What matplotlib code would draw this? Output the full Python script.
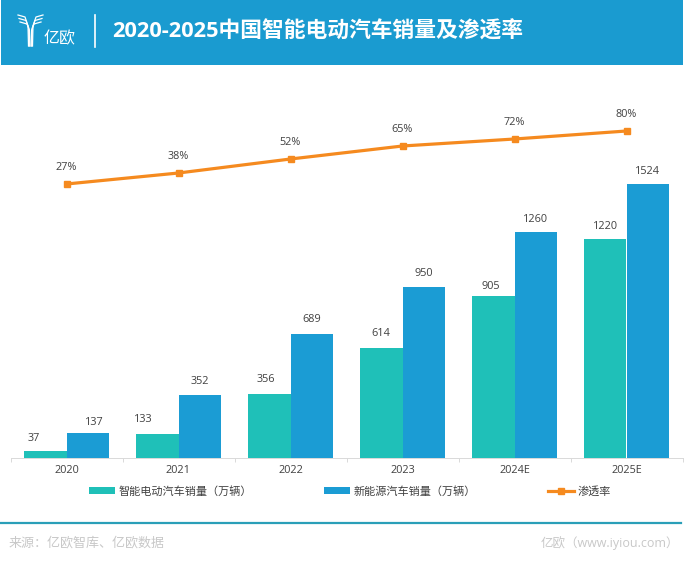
import matplotlib
matplotlib.use('Agg')
import matplotlib.pyplot as plt
from matplotlib.patches import Rectangle
from matplotlib.lines import Line2D

years = ["2020", "2021", "2022", "2023", "2024E", "2025E"]
smart_ev = [37, 133, 356, 614, 905, 1220]
nev = [137, 352, 689, 950, 1260, 1524]
rate = [27, 38, 52, 65, 72, 80]
rate_labels = ["27%", "38%", "52%", "65%", "72%", "80%"]

W, H = 692, 566
TEAL = '#1fc0b8'
BLUE = '#1b9cd4'
ORANGE = '#f58a1f'
TEXT = '#404040'

plt.rcParams['font.family'] = ['Open Sans', 'Noto Sans CJK SC', 'DejaVu Sans']

fig = plt.figure(figsize=(W / 100, H / 100), dpi=100, facecolor='white')


def fx(x):
    return x / W


def fy(y):
    return 1 - y / H


# header band
fig.patches.append(Rectangle((fx(1), fy(65)), 682 / W, 65 / H, transform=fig.transFigure,
                             color='#1a9bd0', lw=0))
# logo
for dx in (0, 1, 2):
    fig.add_artist(Line2D([fx(18 + dx), fx(25 + dx), fx(28 + dx * 0.7), fx(28.5 + dx * 0.7)],
                          [fy(15 + dx * 3.5), fy(17 + dx * 3.5), fy(26 + dx * 2), fy(46)],
                          color='white', lw=0.9))
    fig.add_artist(Line2D([fx(43 - dx), fx(36 - dx), fx(33 - dx * 0.7), fx(32.5 - dx * 0.7)],
                          [fy(15 + dx * 3.5), fy(17 + dx * 3.5), fy(26 + dx * 2), fy(46)],
                          color='white', lw=0.9))
fig.text(fx(44), fy(39), "亿欧", color='white', fontsize=11.5, va='center', ha='left', fontweight='light')
fig.add_artist(Line2D([fx(95), fx(95)], [fy(15), fy(47)], color='white', lw=1.2))
fig.text(fx(112), fy(32), "2020-2025中国智能电动汽车销量及渗透率", color='white',
         fontsize=15.7, fontweight='bold', va='center', ha='left')

# main axes, baseline at y=458, x range 11..683
ax = fig.add_axes([fx(10.5), fy(458), 672 / W, 388 / H])
x = list(range(len(years)))
w = 42.5 / 112
ax.bar([i - w / 2 for i in x], smart_ev, w, color=TEAL, label="智能电动汽车销量（万辆）")
ax.bar([i + w / 2 for i in x], nev, w, color=BLUE, label="新能源汽车销量（万辆）")
ax.set_xlim(-0.5, 5.5)
ax.set_ylim(0, 388 / 0.1795)
ax.set_yticks([])
ax.set_xticks(x)
ax.set_xticklabels(years, fontsize=7.8, color=TEXT)
ax.set_xticks([i - 0.5 for i in range(7)], minor=True)
ax.tick_params(axis='x', which='major', length=0, pad=5)
ax.tick_params(axis='x', which='minor', length=3, color='#d9d9d9', width=0.7, direction='out')
for s in ('top', 'left', 'right'):
    ax.spines[s].set_visible(False)
ax.spines['bottom'].set_color('#d9d9d9')
ax.spines['bottom'].set_linewidth(0.7)

# hand nudges for the value labels, in pixels
teal_dx = [-11, -14, -3, 0, -2, 0]
teal_dy = [0, 2, 2, 1, -4, 0]
blue_dx = [7, 0, 0, 0, 0, 0]
blue_dy = [-2, 0, 2, 1, -1, 0]
for i in x:
    ax.annotate(str(smart_ev[i]), (i - w / 2, smart_ev[i]),
                xytext=(teal_dx[i] * 0.72, 5.3 + teal_dy[i] * 0.72), textcoords='offset points',
                ha='center', va='bottom', fontsize=7.8, color=TEXT)
    ax.annotate(str(nev[i]), (i + w / 2, nev[i]),
                xytext=(blue_dx[i] * 0.72, 5.3 + blue_dy[i] * 0.72), textcoords='offset points',
                ha='center', va='bottom', fontsize=7.8, color=TEXT)

# penetration rate on its own scale
ax2 = ax.twinx()
ax2.set_ylim(-247, 141)
ax2.set_yticks([])
for s in ax2.spines.values():
    s.set_visible(False)
ax2.plot(x, rate, color=ORANGE, lw=2.3, marker='s', ms=5, label="渗透率")
for i in x:
    ax2.annotate(rate_labels[i], (i, rate[i]), xytext=(-0.5, 8.2), textcoords='offset points',
                 ha='center', va='bottom', fontsize=7.8, color=TEXT)

h1, l1 = ax.get_legend_handles_labels()
h2, l2 = ax2.get_legend_handles_labels()
fig.legend(h1 + h2, l1 + l2, ncol=3, frameon=False, loc='center left',
           bbox_to_anchor=(fx(79), fy(492)), fontsize=8, labelcolor=TEXT,
           handlelength=2.35, handleheight=0.5, handletextpad=0.3, columnspacing=6.48)

# footer
fig.add_artist(Line2D([fx(0), fx(681)], [fy(523), fy(523)], color='#2a9fb8', lw=1.6))
fig.text(fx(9), fy(543), "来源：亿欧智库、亿欧数据", color='#c8c8c8', fontsize=9.4, va='center', ha='left')
fig.text(fx(541), fy(543), "亿欧（www.iyiou.com）", color='#c8c8c8', fontsize=9, va='center', ha='left')

fig.savefig('out.png', dpi=100)
